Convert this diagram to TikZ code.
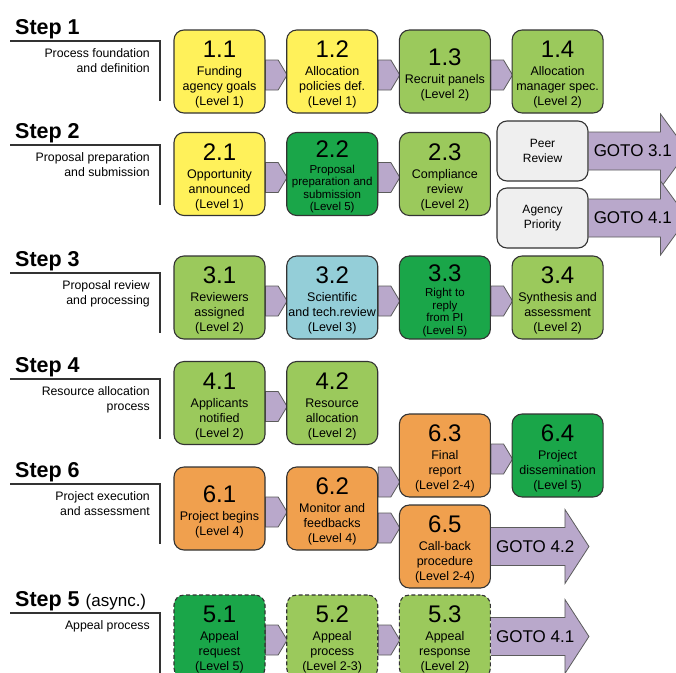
\documentclass[tikz,border=0pt]{standalone}
\usepackage{fontspec}
\setmainfont{Liberation Sans}
\usetikzlibrary{positioning}

\definecolor{lvlone}{HTML}{FFF15A}
\definecolor{lvltwo}{HTML}{9BC95C}
\definecolor{lvlthree}{HTML}{94CED8}
\definecolor{lvlfour}{HTML}{F0A04E}
\definecolor{lvlfive}{HTML}{1AA649}
\definecolor{gotofill}{HTML}{B9A8CB}
\definecolor{sidefill}{HTML}{EFEFEF}
\definecolor{border}{HTML}{333333}

\pgfdeclarelayer{bg}
\pgfsetlayers{bg,main}

\newcommand{\boxno}[1]{{\fontsize{24}{26}\selectfont\rule{0pt}{23pt}#1}\\[3pt]}
\newcommand{\chev}[3][-3.5]{%
  \coordinate (cs) at ([yshift=#1]#2.east);
  \coordinate (ct) at (#3.west |- cs);
  \draw[chevron] ([yshift=15]cs) -- ([xshift=-8,yshift=15]ct) -- ([xshift=1]ct)
    -- ([xshift=-8,yshift=-15]ct) -- ([yshift=-15]cs) -- cycle;}
\newcommand{\gotoarrow}[4]{%
  \draw[bigarrow] ([yshift=19]#1.east) -- ++(#2,0) -- ++(0,18) -- ++(#3,-37)
    -- ++(-#3,-37) -- ++(0,18) -- ([yshift=-19]#1.east);
  \node[gotolabel, anchor=west] (#1-goto) at ([xshift=5]#1.east) {#4};}

\begin{document}
\begin{tikzpicture}[x=1pt, y=1pt, node distance=20.6pt,
    box/.style = {draw=border, line width=1.1pt, rounded corners=10pt, fill=#1,
                  minimum width=91pt, minimum height=83pt, inner sep=0pt,
                  align=center, font=\fontsize{12.5}{15}\selectfont},
    tight/.style = {font=\fontsize{11.5}{12.5}\selectfont},
    async/.style = {dash pattern=on 4pt off 2.5pt},
    side/.style = {draw=border, line width=1.1pt, rounded corners=10pt, fill=sidefill,
                   minimum width=91pt, minimum height=60pt, inner sep=0pt,
                   align=center, font=\fontsize{12}{15}\selectfont},
    chevron/.style = {draw=border!80, line width=0.8pt, fill=gotofill},
    bigarrow/.style = {draw=border!80, line width=0.8pt, fill=gotofill},
    gotolabel/.style = {inner sep=0pt, font=\fontsize{17}{20}\selectfont},
    stephead/.style = {inner sep=0pt, font=\fontsize{21.5}{24}\selectfont\bfseries},
    stepsub/.style = {inner sep=0pt, align=right, font=\fontsize{12.3}{15}\selectfont},
    rule/.style = {draw=border, line width=1.2pt}]
  \useasboundingbox (0,0) rectangle (676,-672);

  % step titles
  \foreach \ly/\ttl/\sub [count=\k] in {
      41/{Step 1}/{Process foundation\\and definition},
      145/{Step 2}/{Proposal preparation\\and submission},
      273/{Step 3}/{Proposal review\\and processing},
      379/{Step 4}/{Resource allocation\\process},
      484/{Step 6}/{Project execution\\and assessment},
      613/{Step 5 {\fontsize{17}{20}\selectfont\mdseries(async.)}}/{Appeal process}} {
    \node[stephead, anchor=base west] (hd\k) at (15,-\ly+7) {\ttl};
    \node[stepsub, anchor=north east] (sb\k) at (150,-\ly-7) {\sub};
    \draw[rule] (10,-\ly) -- (160,-\ly) -- ++(0,-60);
  }

  % step 1
  \node[box=lvlone] (s11) at (219.5,-71.5) {\boxno{1.1}Funding\\agency goals\\(Level 1)};
  \node[box=lvlone, right=of s11] (s12) {\boxno{1.2}Allocation\\policies def.\\(Level 1)};
  \node[box=lvltwo, right=of s12] (s13) {\boxno{1.3}Recruit panels\\(Level 2)};
  \node[box=lvltwo, right=of s13] (s14) {\boxno{1.4}Allocation\\manager spec.\\(Level 2)};

  % step 2
  \node[box=lvlone] (s21) at (219.5,-174) {\boxno{2.1}Opportunity\\announced\\(Level 1)};
  \node[box=lvlfive, tight, right=of s21] (s22) {\boxno{2.2}Proposal\\preparation and\\submission\\(Level 5)};
  \node[box=lvltwo, right=of s22] (s23) {\boxno{2.3}Compliance\\review\\(Level 2)};
  \node[side] (pr) at (542.5,-151) {Peer\\Review};
  \node[side] (ap) at (542.5,-218) {Agency\\Priority};

  % step 3
  \node[box=lvltwo] (s31) at (219.5,-297.5) {\boxno{3.1}Reviewers\\assigned\\(Level 2)};
  \node[box=lvlthree, right=of s31] (s32) {\boxno{3.2}Scientific\\and tech.review\\(Level 3)};
  \node[box=lvlfive, tight, right=of s32] (s33) {\boxno{3.3}Right to\\reply\\from PI\\(Level 5)};
  \node[box=lvltwo, right=of s33] (s34) {\boxno{3.4}Synthesis and\\assessment\\(Level 2)};

  % step 4
  \node[box=lvltwo] (s41) at (219.5,-403) {\boxno{4.1}Applicants\\notified\\(Level 2)};
  \node[box=lvltwo, right=of s41] (s42) {\boxno{4.2}Resource\\allocation\\(Level 2)};

  % step 6
  \node[box=lvlfour] (s61) at (219.5,-508.5) {\boxno{6.1}Project begins\\(Level 4)};
  \node[box=lvlfour, right=of s61] (s62) {\boxno{6.2}Monitor and\\feedbacks\\(Level 4)};
  \node[box=lvlfour, right=of s62, yshift=53pt] (s63) {\boxno{6.3}Final\\report\\(Level 2-4)};
  \node[box=lvlfive, right=of s63] (s64) {\boxno{6.4}Project\\dissemination\\(Level 5)};
  \node[box=lvlfour, right=of s62, yshift=-38pt] (s65) {\boxno{6.5}Call-back\\procedure\\(Level 2-4)};

  % step 5
  \node[box=lvlfive, async] (s51) at (219.5,-636.5) {\boxno{5.1}Appeal\\request\\(Level 5)};
  \node[box=lvltwo, async, right=of s51] (s52) {\boxno{5.2}Appeal\\process\\(Level 2-3)};
  \node[box=lvltwo, async, right=of s52] (s53) {\boxno{5.3}Appeal\\response\\(Level 2)};

  \begin{pgfonlayer}{bg}
    \chev{s11}{s12} \chev{s12}{s13} \chev{s13}{s14}
    \chev{s21}{s22} \chev{s22}{s23}
    \chev{s31}{s32} \chev{s32}{s33} \chev{s33}{s34}
    \chev{s41}{s42}
    \chev{s61}{s62} \chev[26.5]{s62}{s63} \chev[-19.5]{s62}{s65} \chev{s63}{s64}
    \chev{s51}{s52} \chev{s52}{s53}
    \gotoarrow{pr}{72}{27}{GOTO 3.1}
    \gotoarrow{ap}{72}{27}{GOTO 4.1}
    \gotoarrow{s65}{74}{24}{GOTO 4.2}
    \gotoarrow{s53}{74}{24}{GOTO 4.1}
  \end{pgfonlayer}
\end{tikzpicture}
\end{document}
